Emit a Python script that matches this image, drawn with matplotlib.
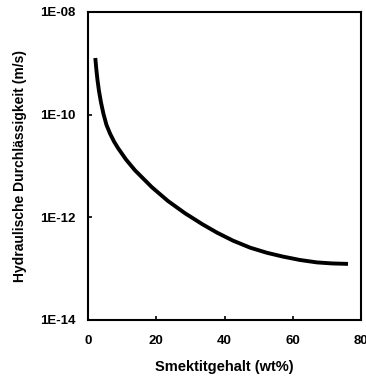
import numpy as np
import matplotlib
matplotlib.use('Agg')
import matplotlib.pyplot as plt

# curve: smectite content (wt%) vs. log10 k (m/s)
smektit = [2.14, 2.43, 2.78, 3.22, 3.81, 4.54, 5.42, 6.45, 7.62, 8.79,
           11.14, 13.77, 18.75, 23.44, 28.42, 33.41, 37.80, 42.49, 47.47,
           52.45, 57.14, 62.12, 67.10, 71.50, 76.19]
log_k = [-8.896, -9.110, -9.325, -9.539, -9.763, -9.987, -10.201, -10.367,
         -10.523, -10.650, -10.874, -11.084, -11.415, -11.682, -11.920,
         -12.130, -12.298, -12.454, -12.590, -12.691, -12.765, -12.831,
         -12.878, -12.898, -12.907]

x_ticks = [0, 20, 40, 60, 80]
y_ticks = [1e-14, 1e-12, 1e-10, 1e-8]
y_ticklabels = ['1E-14', '1E-12', '1E-10', '1E-08']

plt.rcParams['font.family'] = ['Liberation Sans', 'DejaVu Sans']
plt.rcParams['font.weight'] = 'bold'

fig = plt.figure(figsize=(3.66, 3.78), dpi=100)
ax = fig.add_axes([88 / 366, 1 - 320 / 378, 273 / 366, 308 / 378])

ax.plot(smektit, 10 ** np.array(log_k), color='black', lw=2.8,
        solid_capstyle='butt', solid_joinstyle='round')

ax.set_yscale('log')
ax.set_xlim(0, 80)
ax.set_ylim(1e-14, 1e-8)
ax.set_xticks(x_ticks)
ax.set_yticks(y_ticks)
ax.set_yticklabels(y_ticklabels)
ax.yaxis.set_minor_locator(matplotlib.ticker.NullLocator())
ax.tick_params(direction='in', length=3, width=1.2, labelsize=9.5)
ax.tick_params(axis='x', pad=11)
ax.tick_params(axis='y', pad=9)
for lab in ax.get_xticklabels() + ax.get_yticklabels():
    lab.set_fontweight('bold')
for sp in ax.spines.values():
    sp.set_linewidth(1.5)

ax.set_xlabel('Smektitgehalt (wt%)', fontsize=10.5, fontweight='bold')
ax.set_ylabel('Hydraulische Durchlässigkeit (m/s)', fontsize=10,
              fontweight='bold')
ax.xaxis.set_label_coords(0.5, -0.13)
ax.yaxis.set_label_coords(-0.225, 0.5)

fig.savefig('out.png', dpi=100)
